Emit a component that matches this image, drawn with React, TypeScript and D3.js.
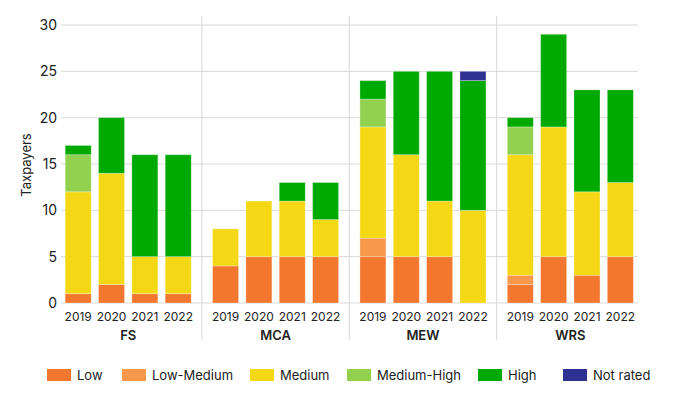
import { useEffect, useRef } from "react";
import * as d3 from "d3";

const groups = ["FS", "MCA", "MEW", "WRS"];
const years = ["2019", "2020", "2021", "2022"];
const ratings = ["Low", "Low-Medium", "Medium", "Medium-High", "High", "Not rated"];
const colors = ["#f47730", "#f7984a", "#f4d816", "#92d050", "#00a900", "#2e3192"];

// values per rating, ordered FS 2019..2022, MCA 2019..2022, MEW ..., WRS ...
const low = [1, 2, 1, 1, 4, 5, 5, 5, 5, 5, 5, 0, 2, 5, 3, 5];
const lowMedium = [0, 0, 0, 0, 0, 0, 0, 0, 2, 0, 0, 0, 1, 0, 0, 0];
const medium = [11, 12, 4, 4, 4, 6, 6, 4, 12, 11, 6, 10, 13, 14, 9, 8];
const mediumHigh = [4, 0, 0, 0, 0, 0, 0, 0, 3, 0, 0, 0, 3, 0, 0, 0];
const high = [1, 6, 11, 11, 0, 0, 2, 4, 2, 9, 14, 14, 1, 10, 11, 10];
const notRated = [0, 0, 0, 0, 0, 0, 0, 0, 0, 0, 0, 1, 0, 0, 0, 0];

const yTicks = [0, 5, 10, 15, 20, 25, 30];

const W = 689;
const H = 403;
const font = "Inter, 'Noto Sans', sans-serif";

export default function App() {
  const ref = useRef<SVGSVGElement | null>(null);

  useEffect(() => {
    if (!ref.current) return;
    const svg = d3.select(ref.current);
    svg.selectAll("*").remove();

    const series = [low, lowMedium, medium, mediumHigh, high, notRated];
    const rows = groups.flatMap((g, gi) =>
      years.map((yr, yi) => {
        const row: Record<string, any> = { group: g, year: yr };
        ratings.forEach((r, ri) => (row[r] = series[ri][gi * 4 + yi]));
        return row;
      })
    );

    const plotLeft = 61;
    const plotRight = 638;
    const y = d3.scaleLinear().domain([0, 30]).range([303, 25]);
    const x0 = d3.scaleBand().domain(groups).range([54.5, 644]);
    const x1 = d3
      .scaleBand()
      .domain(years)
      .range([0, x0.bandwidth()])
      .paddingInner(0.22)
      .paddingOuter(0.32);

    // grid
    svg
      .append("g")
      .selectAll("line")
      .data(yTicks)
      .enter()
      .append("line")
      .attr("x1", plotLeft)
      .attr("x2", plotRight)
      .attr("y1", (d) => y(d))
      .attr("y2", (d) => y(d))
      .attr("stroke", "#d9d9d9")
      .attr("stroke-width", 1);

    svg
      .append("g")
      .selectAll("text")
      .data(yTicks)
      .enter()
      .append("text")
      .attr("x", 57)
      .attr("y", (d) => y(d))
      .attr("dy", "0.35em")
      .attr("text-anchor", "end")
      .attr("font-family", font)
      .attr("font-size", 14)
      .attr("fill", "#222")
      .text((d) => d);

    // group separators
    svg
      .append("g")
      .selectAll("line")
      .data(groups.slice(1))
      .enter()
      .append("line")
      .attr("x1", (d) => x0(d)!)
      .attr("x2", (d) => x0(d)!)
      .attr("y1", 16)
      .attr("y2", 340)
      .attr("stroke", "#d9d9d9");

    const stack = d3.stack<Record<string, any>>().keys(ratings);
    const stacked = stack(rows);

    svg
      .append("g")
      .selectAll("g")
      .data(stacked)
      .enter()
      .append("g")
      .attr("fill", (_, i) => colors[i])
      .selectAll("rect")
      .data((d) => d.filter((p) => p[1] - p[0] > 0))
      .enter()
      .append("rect")
      .attr("x", (d) => x0(d.data.group)! + x1(d.data.year)!)
      .attr("width", x1.bandwidth())
      .attr("y", (d) => y(d[1]))
      .attr("height", (d) => y(d[0]) - y(d[1]))
      .attr("stroke", "#ffffff")
      .attr("stroke-opacity", 0.35)
      .attr("stroke-width", 0.8);

    // year labels
    svg
      .append("g")
      .selectAll("text")
      .data(rows)
      .enter()
      .append("text")
      .attr("x", (d) => x0(d.group)! + x1(d.year)! + x1.bandwidth() / 2)
      .attr("y", 317)
      .attr("dy", "0.35em")
      .attr("text-anchor", "middle")
      .attr("font-family", font)
      .attr("font-size", 12)
      .attr("fill", "#222")
      .text((d) => d.year);

    svg
      .append("g")
      .selectAll("text")
      .data(groups)
      .enter()
      .append("text")
      .attr("x", (d) => x0(d)! + x0.bandwidth() / 2)
      .attr("y", 335)
      .attr("dy", "0.35em")
      .attr("text-anchor", "middle")
      .attr("font-family", font)
      .attr("font-size", 13)
      .attr("font-weight", 600)
      .attr("fill", "#222")
      .text((d) => d);

    svg
      .append("text")
      .attr("transform", `translate(26,165) rotate(-90)`)
      .attr("dy", "0.35em")
      .attr("text-anchor", "middle")
      .attr("font-family", font)
      .attr("font-size", 13)
      .attr("fill", "#222")
      .text("Taxpayers");

    // legend
    const legendX = [47, 122, 250, 347, 478, 563];
    const lg = svg
      .append("g")
      .selectAll("g")
      .data(ratings)
      .enter()
      .append("g")
      .attr("transform", (_, i) => `translate(${legendX[i]},369)`);
    lg.append("rect")
      .attr("width", 24)
      .attr("height", 12)
      .attr("fill", (_, i) => colors[i]);
    lg.append("text")
      .attr("x", 30)
      .attr("y", 6)
      .attr("dy", "0.35em")
      .attr("font-family", font)
      .attr("font-size", 13)
      .attr("fill", "#222")
      .text((d) => d);
  }, []);

  return (
    <svg
      ref={ref}
      width={W}
      height={H}
      style={{ position: "absolute", left: 0, top: 0 }}
    />
  );
}
